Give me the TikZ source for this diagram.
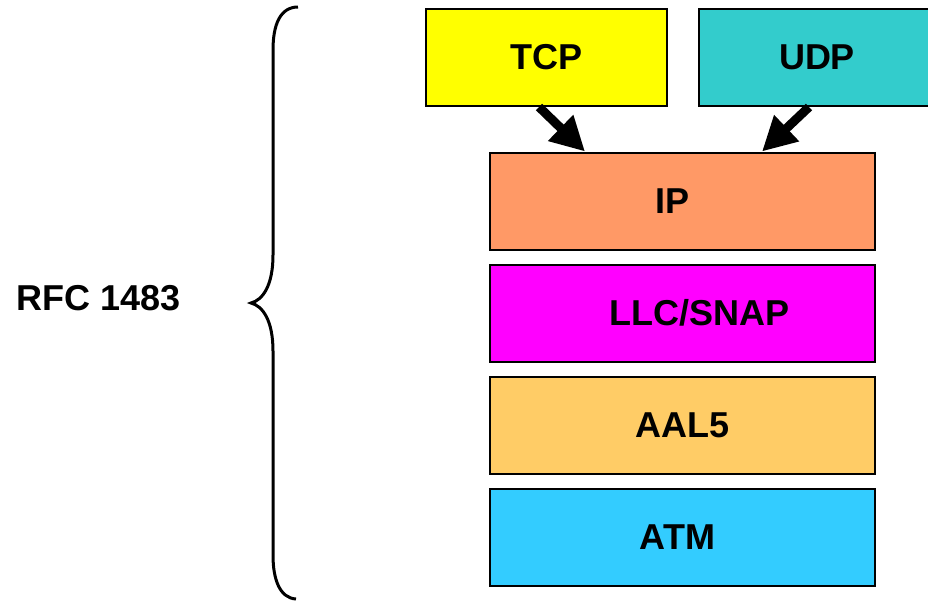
\documentclass[tikz,border=0pt]{standalone}
\usepackage{fontspec}
\setmainfont{Liberation Sans}
\usetikzlibrary{positioning,arrows.meta}

\definecolor{tcpyellow}{HTML}{FFFF00}
\definecolor{udpteal}{HTML}{33CCCC}
\definecolor{ipsalmon}{HTML}{FF9966}
\definecolor{llcmagenta}{HTML}{FF00FF}
\definecolor{aalorange}{HTML}{FFCC66}
\definecolor{atmblue}{HTML}{33CCFF}

\tikzset{
  layer/.style={shape=rectangle,draw=black,line width=2pt,minimum width=385pt,minimum height=97pt,
    font=\fontsize{36}{43}\selectfont\bfseries},
  fat/.style={-{Triangle[length=34pt,width=34pt]},line width=9pt}
}

\begin{document}
\begin{tikzpicture}[x=1pt,y=-1pt]
  \clip (0,0) rectangle (928,600);
  \node[layer,fill=tcpyellow,minimum width=241pt] (tcp) at (546.5,57.5) {TCP};
  \node[layer,fill=udpteal,minimum width=236pt] (udp) at (817,57.5) {UDP};
  \node[layer,fill=ipsalmon] (ip) at (682.5,201) {\hspace*{-20pt}IP};
  \node[layer,fill=llcmagenta,below=13pt of ip] (llc) {\hspace*{34pt}LLC/SNAP};
  \node[layer,fill=aalorange,below=13pt of llc] (aal) {AAL5};
  \node[layer,fill=atmblue,below=13pt of aal] (atm) {\hspace*{-10pt}ATM};
  \node[font=\fontsize{36}{43}\selectfont\bfseries] (rfc) at (99,298) {RFC 1483};
  \path [fat]([xshift=114pt]tcp.south west) edge ([xshift=96pt]ip.north west);
  \path [fat]([xshift=111pt]udp.south west) edge ([xshift=273pt]ip.north west);
  % brace
  \draw[line width=3pt] (298,7) .. controls (280,7) and (273,25) .. (273,50) -- (273,255)
    .. controls (273,285) and (263,300) .. (251,303) .. controls (263,306) and (273,321) .. (273,351)
    -- (273,555) .. controls (273,580) and (280,598) .. (296,599);
\end{tikzpicture}
\end{document}
